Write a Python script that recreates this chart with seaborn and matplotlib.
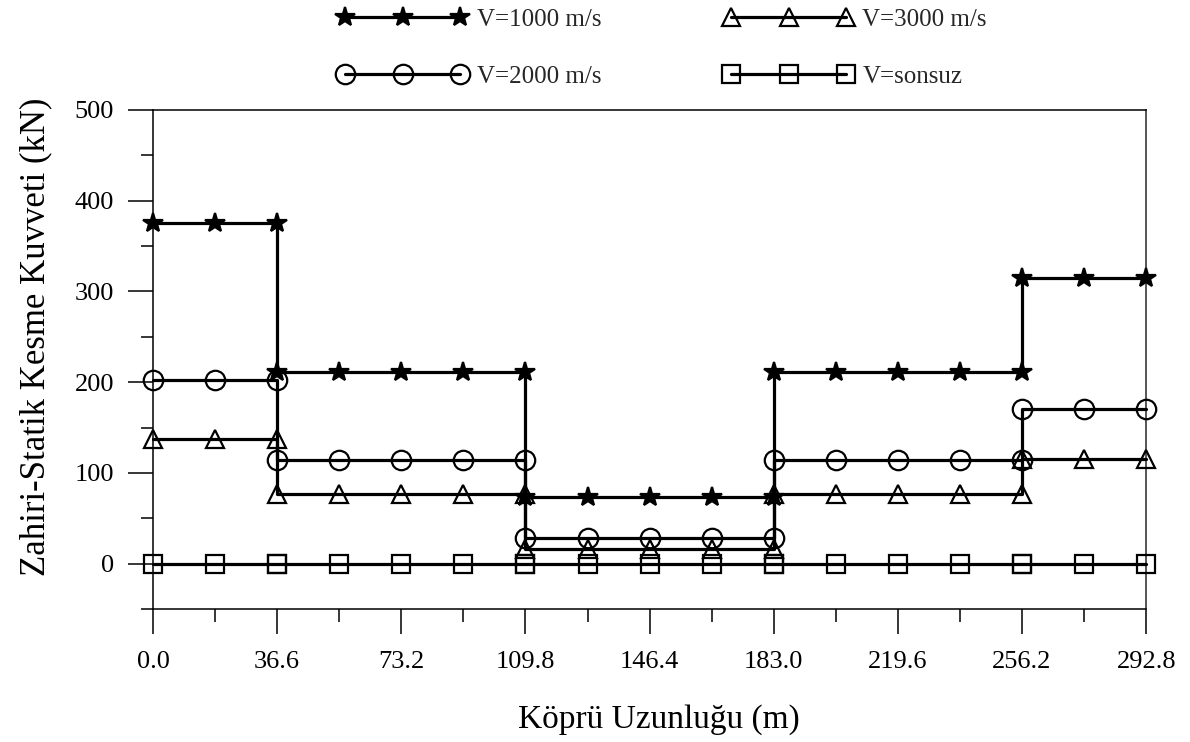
import numpy as np
import pandas as pd
import matplotlib
matplotlib.use("Agg")
import matplotlib.pyplot as plt
import seaborn as sns

# stations along the bridge (m)
stations = [0.0, 18.3, 36.6, 54.9, 73.2, 91.5, 109.8, 128.1, 146.4, 164.7,
            183.0, 201.3, 219.6, 237.9, 256.2, 274.5, 292.8]
# spans where the force stays constant
spans = [(0.0, 36.6), (36.6, 109.8), (109.8, 183.0), (183.0, 256.2), (256.2, 292.8)]

series_names = ["V=1000 m/s", "V=2000 m/s", "V=3000 m/s", "V=sonsuz"]
v1000 = [375, 211, 74, 211, 315]
v2000 = [202, 114, 28, 114, 170]
v3000 = [137, 77, 16, 77, 115]
v_inf = [0, 0, 0, 0, 0]

x_ticks = [0.0, 36.6, 73.2, 109.8, 146.4, 183.0, 219.6, 256.2, 292.8]
y_ticks = [0, 100, 200, 300, 400, 500]
y_minor = [-50, 50, 150, 250, 350, 450]

marker_map = {"V=1000 m/s": "*", "V=2000 m/s": "o", "V=3000 m/s": "^", "V=sonsuz": "s"}
marker_size = {"*": 14.5, "o": 14, "^": 13.5, "s": 13}

rows = []
for name, vals in zip(series_names, [v1000, v2000, v3000, v_inf]):
    k = 0
    for (a, b), v in zip(spans, vals):
        for s in stations:
            if a <= s <= b:
                rows.append({"x": s, "y": v, "seri": name, "sira": k})
                k += 1
df = pd.DataFrame(rows)

sns.set_theme(style="ticks")
plt.rcParams["font.family"] = ["Liberation Serif", "DejaVu Serif"]

fig = plt.figure(figsize=(11.9, 7.42), dpi=100)
ax = fig.add_axes([0.1286, 0.1792, 0.8346, 0.6726])

sns.lineplot(data=df, x="x", y="y", hue="seri", style="seri",
             hue_order=series_names, style_order=series_names,
             palette={n: "black" for n in series_names}, markers=marker_map,
             dashes=False, sort=False, estimator=None, legend=False, ax=ax,
             linewidth=2.3, markersize=14, markeredgecolor="black",
             markeredgewidth=1.6)

for line in ax.lines:
    m = line.get_marker()
    line.set_markersize(marker_size[m])
    line.set_markerfacecolor("black" if m == "*" else "none")
    line.set_clip_on(False)
    line.set_zorder(3)

ax.set_xlim(0, 292.8)
ax.set_ylim(-50, 500)
ax.set_xticks(x_ticks)
ax.set_xticklabels([f"{t:.1f}" for t in x_ticks])
ax.set_xticks(stations[1::2], minor=True)
ax.set_yticks(y_ticks)
ax.set_yticks(y_minor, minor=True)
ax.tick_params(which="major", length=18, width=1.1, direction="out",
               colors="black", labelsize=19, bottom=True, left=True)
ax.tick_params(which="minor", length=9, width=1.1, direction="out",
               colors="black", bottom=True, left=True)
ax.tick_params(axis="x", which="major", pad=12)
ax.tick_params(axis="y", which="major", pad=10)

for side in ["left", "bottom", "top"]:
    ax.spines[side].set_visible(True)
    ax.spines[side].set_color("black")
    ax.spines[side].set_linewidth(1.1)
ax.spines["right"].set_visible(True)
ax.spines["right"].set_color("#555555")
ax.spines["right"].set_linewidth(1.4)

ax.set_xlabel("Köprü Uzunluğu (m)", fontsize=24, labelpad=23, color="black", x=0.509)
ax.set_ylabel("Zahiri-Statik Kesme Kuvveti (kN)", fontsize=25, labelpad=16,
              color="black", y=0.546)

handles = ax.lines[:4]
fig.legend(handles, series_names, ncol=2, loc="center", bbox_to_anchor=(0.5567, 0.935),
           frameon=False, fontsize=18, numpoints=3, handlelength=5.2,
           columnspacing=4.9, labelspacing=1.4, handletextpad=0.35)

fig.savefig("out.png", dpi=100)
